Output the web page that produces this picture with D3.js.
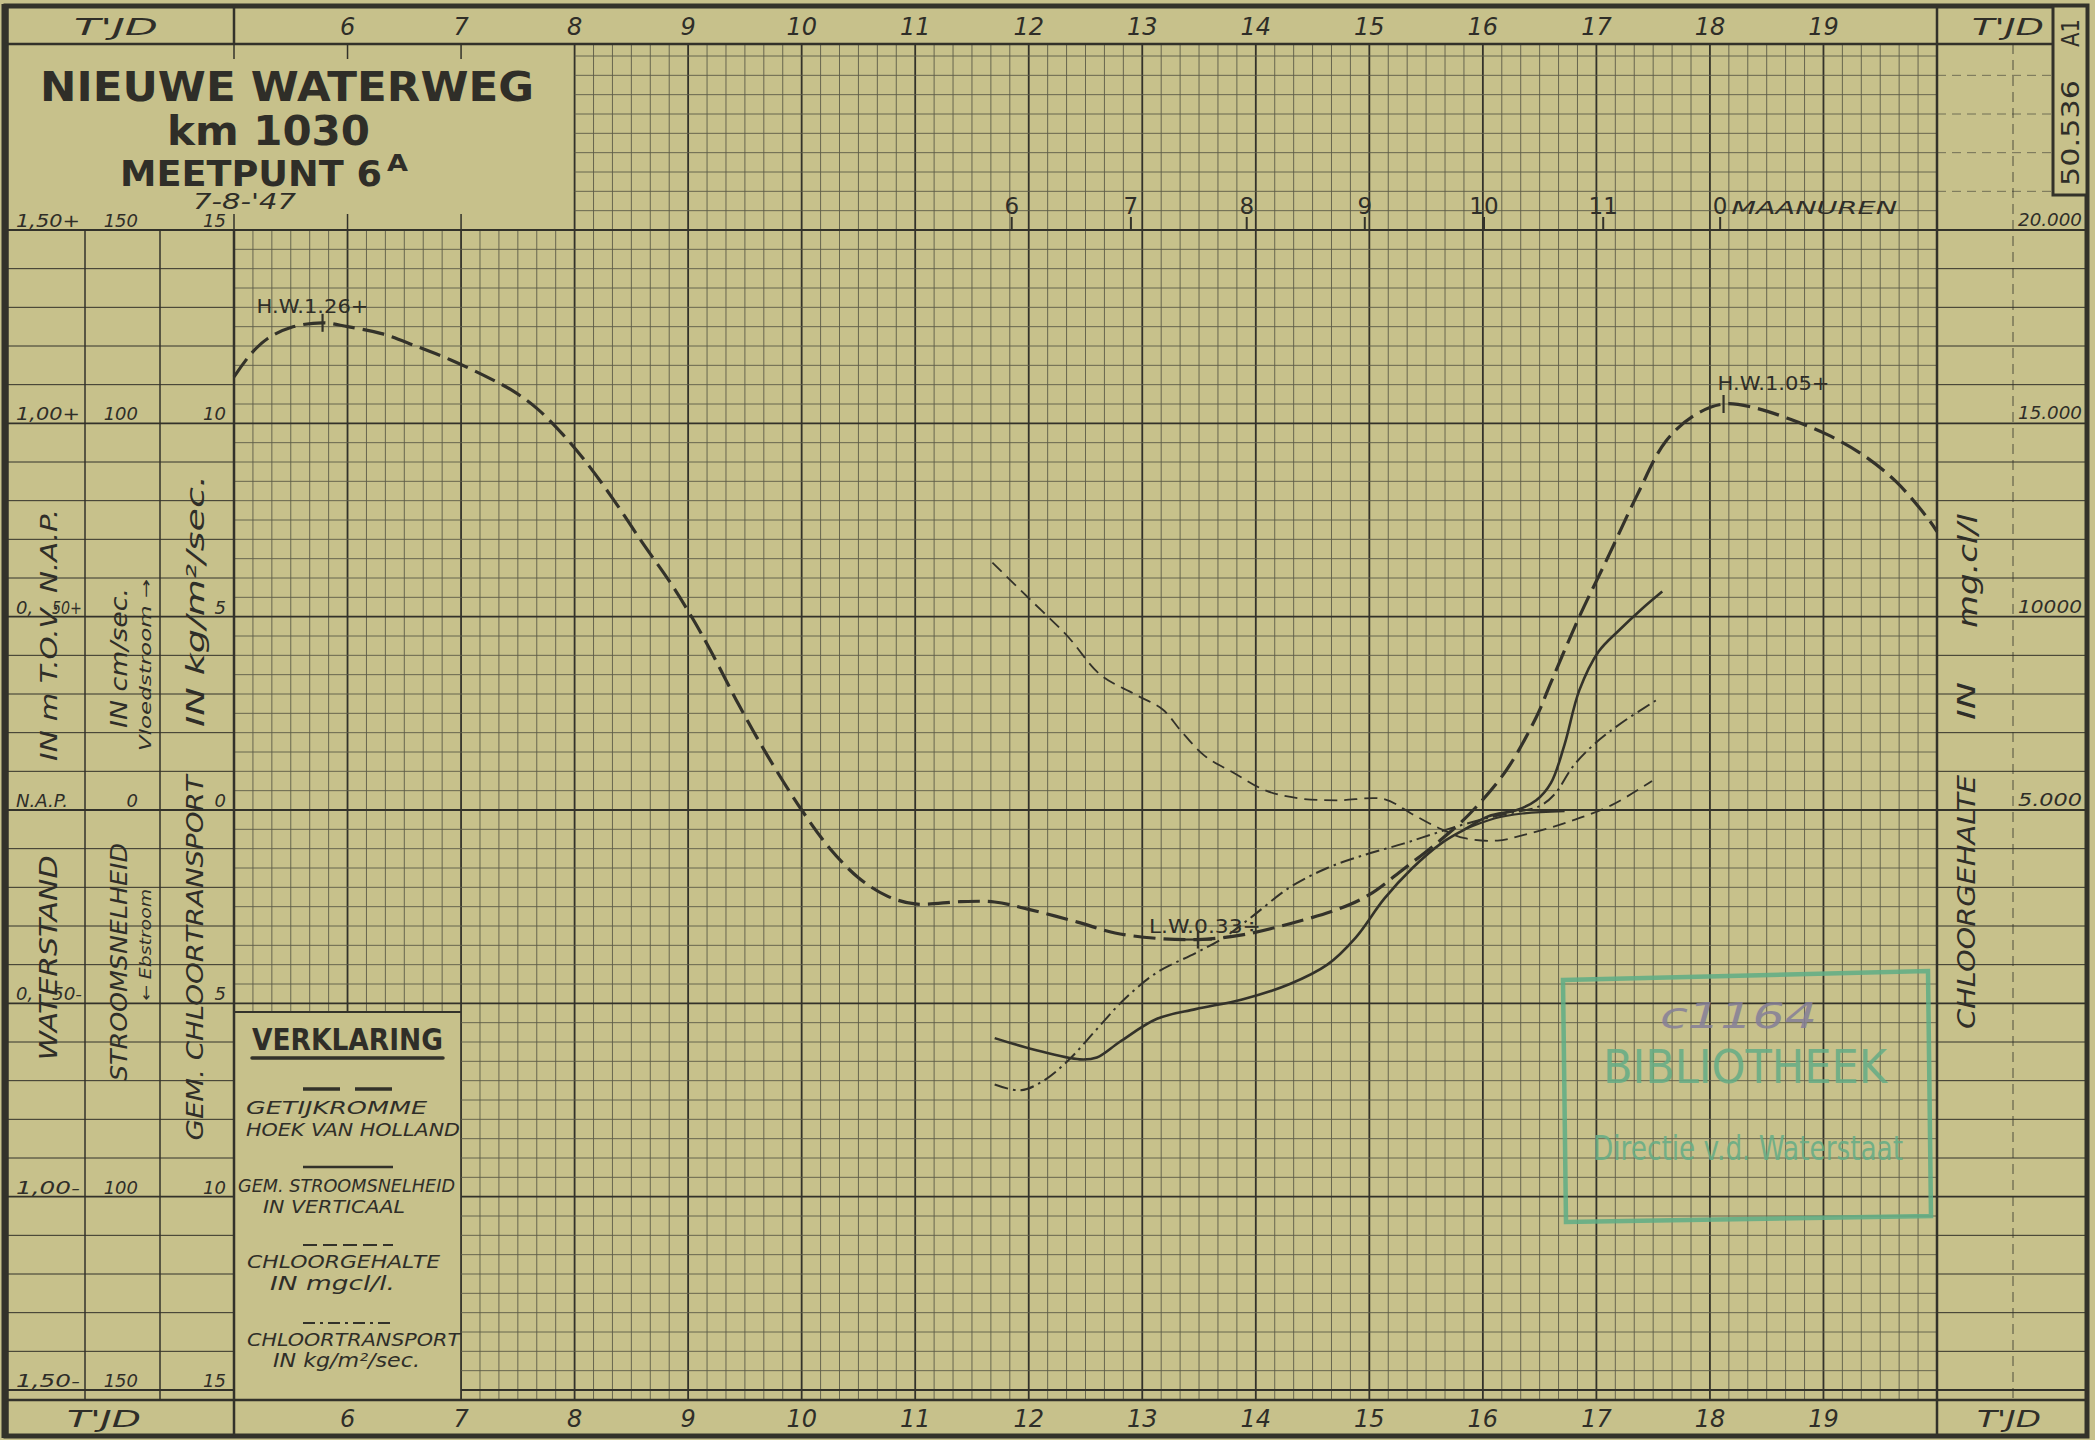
<!DOCTYPE html>
<html>
<head>
<meta charset="utf-8">
<title>Nieuwe Waterweg km 1030 - Meetpunt 6A</title>
<script src="https://d3js.org/d3.v7.min.js"></script>
<style>
body {margin:0; background:#c6c08b;}
svg {display:block;}
.hand {font-family:"DejaVu Sans", sans-serif; font-style:italic; fill:#2f2e28;}
.block {font-family:"DejaVu Sans", sans-serif; fill:#2f2e28;}
</style>
</head>
<body>
<svg width="2095" height="1440"></svg>
<script>
// ---- values (time in hours) ----
var hourTicks = [6,7,8,9,10,11,12,13,14,15,16,17,18,19];

var levelTicks  = [1.5, 1.0, 0.5, 0, -0.5, -1.0, -1.5];
var levelLabels = ["1,50+", "1,00+", "0,50+", "N.A.P.", "0,50-", "1,00-", "1,50-"];
var velocityLabels  = ["150", "100", "", "0", "", "100", "150"];
var transportLabels = ["15", "10", "5", "0", "5", "10", "15"];

var chlorideTicks  = [20000, 15000, 10000, 5000];
var chlorideLabels = ["20.000", "15.000", "10000", "5.000"];

var moonTickTimes = [11.85, 12.9, 13.92, 14.96, 16.01, 17.06, 18.09];
var moonLabels    = ["6", "7", "8", "9", "10", "11", "0"];

// getijkromme Hoek van Holland, m t.o.v. N.A.P.
var tide = [[5.0,1.12],[5.15,1.18],[5.3,1.22],[5.5,1.248],[5.78,1.26],[6.0,1.25],[6.3,1.232],
  [6.6,1.2],[6.9,1.165],[7.2,1.124],[7.45,1.085],[7.67,1.038],[7.9,0.97],[8.1,0.9],[8.33,0.808],
  [8.6,0.69],[8.85,0.585],[9.05,0.49],[9.22,0.4],[9.45,0.27],[9.7,0.14],[10.0,0.0],[10.25,-0.1],
  [10.5,-0.175],[10.75,-0.222],[11.0,-0.243],[11.4,-0.237],[11.7,-0.238],[12.0,-0.257],
  [12.43,-0.29],[12.76,-0.318],[13.13,-0.332],[13.49,-0.335],[13.88,-0.323],[14.3,-0.294],
  [14.72,-0.257],[15.0,-0.219],[15.3,-0.153],[15.63,-0.077],[15.88,-0.011],[16.2,0.1],
  [16.47,0.24],[16.6,0.33],[16.85,0.5],[17.11,0.659],[17.36,0.815],[17.61,0.953],[17.87,1.022],
  [18.12,1.05],[18.41,1.039],[18.72,1.009],[19.04,0.97],[19.35,0.918],[19.64,0.849],
  [19.92,0.754],[20.0,0.72]];

// gem. stroomsnelheid in verticaal, cm/sec (+ vloed, - eb)
var velocity = [[11.7,-59],[12.05,-62],[12.45,-64.5],[12.6,-64],[12.8,-60],[13.13,-54],
  [13.47,-51.5],[13.88,-49],[14.3,-45],[14.63,-40],[14.88,-33],[15.13,-23],[15.38,-15],
  [15.63,-8.7],[15.84,-5],[16.05,-1.6],[16.3,0],[16.47,2.5],[16.6,7],[16.72,17],[16.85,31],
  [17.02,41],[17.2,46.5],[17.4,52],[17.58,56.5]];
var velocityBranch = [[15.84,-5],[16.1,-2.2],[16.35,-0.9],[16.72,-0.3]];

// chloorgehalte, mg cl/l
var chloride = [[11.68,11400],[12.01,10450],[12.34,9500],[12.63,8500],[12.93,8000],[13.18,7600],
  [13.34,7050],[13.55,6400],[13.8,5970],[14.09,5500],[14.38,5300],[14.72,5250],[15.13,5280],
  [15.38,4890],[15.63,4510],[15.84,4270],[16.13,4210],[16.38,4370],[16.76,4700],[17.13,5120],
  [17.49,5750]];

// gem. chloortransport, kg/m2/sec
var transport = [[11.7,-7.1],[11.93,-7.25],[12.13,-7.0],[12.34,-6.5],[12.59,-5.7],[12.84,-4.9],
  [13.13,-4.2],[13.47,-3.7],[13.72,-3.3],[13.97,-2.75],[14.3,-2.0],[14.63,-1.5],[14.97,-1.15],
  [15.3,-0.87],[15.55,-0.63],[15.8,-0.4],[16.05,-0.2],[16.3,-0.05],[16.5,0.1],[16.63,0.4],
  [16.8,1.15],[16.98,1.7],[17.22,2.25],[17.56,2.9]];

var markTimes  = [5.78, 13.49, 18.12];
var markLevels = [1.26, -0.335, 1.05];
var markLabels = ["H.W.1.26+", "L.W.0.33\u00f7", "H.W.1.05+"];

// ---- layout ----
var paper = "#c7c18b", ink = "#33322a", gridInk = "#5c5b47";
var plotLeft = 234, plotRight = 1937, plotTop = 230, plotBottom = 1390;
var bandTop = 44, bandBottom = 1400, legendTop = 1012;
var markLabelOffset = [[-66, -10], [-49, -7], [-6, -14]];

var x = d3.scaleLinear().domain([5, 20]).range([plotLeft, plotRight]);
var yLevel = d3.scaleLinear().domain([1.5, -1.5]).range([plotTop, plotBottom]);
var yVel = d3.scaleLinear().domain([150, -150]).range([plotTop, plotBottom]);
var yTrans = d3.scaleLinear().domain([15, -15]).range([plotTop, plotBottom]);
var yChl = d3.scaleLinear().domain([20000, -10000]).range([plotTop, plotBottom]);

var svg = d3.select("svg");
svg.append("rect").attr("width", 2095).attr("height", 1440).attr("fill", paper);

function addText(g, str, px, py, size, cls, anchor, len) {
  var t = g.append("text").attr("class", cls).attr("x", px).attr("y", py)
    .attr("font-size", size).attr("text-anchor", anchor || "start").text(str);
  if (len) t.attr("textLength", len).attr("lengthAdjust", "spacingAndGlyphs");
  return t;
}
function addVText(g, str, cx, cy, size, cls, len) {
  var t = g.append("text").attr("class", cls)
    .attr("transform", "translate(" + cx + "," + cy + ") rotate(-90)")
    .attr("font-size", size).attr("text-anchor", "middle")
    .attr("dominant-baseline", "central").text(str);
  if (len) t.attr("textLength", len).attr("lengthAdjust", "spacingAndGlyphs");
  return t;
}
function hLine(g, x1, x2, yy, w, dash) {
  var l = g.append("line").attr("x1", x1).attr("x2", x2).attr("y1", yy).attr("y2", yy)
    .attr("stroke", ink).attr("stroke-width", w);
  if (dash) l.attr("stroke-dasharray", dash);
  return l;
}
function vLine(g, xx, y1, y2, w, dash) {
  var l = g.append("line").attr("x1", xx).attr("x2", xx).attr("y1", y1).attr("y2", y2)
    .attr("stroke", ink).attr("stroke-width", w);
  if (dash) l.attr("stroke-dasharray", dash);
  return l;
}
var isWhole = function(d) { return Math.abs(d - Math.round(d)) < 0.01; };
var isHalf = function(d) { return Math.abs(d * 2 - Math.round(d * 2)) < 0.01; };

// ---- grid paper ----
var grid = svg.append("g");
var tenMinutes = d3.range(31, 120).map(function(i) { return i / 6; });
grid.selectAll(".vg").data(tenMinutes).enter().append("line")
  .attr("x1", function(d) { return x(d); })
  .attr("x2", function(d) { return x(d); })
  .attr("y1", function(d) { return d < 7.99 ? plotTop : bandTop; })
  .attr("y2", function(d) { return d < 6.99 ? legendTop : bandBottom; })
  .attr("stroke", function(d) { return isWhole(d) ? ink : gridInk; })
  .attr("stroke-width", function(d) { return isWhole(d) ? 1.8 : 0.9; });

var fiveCm = d3.range(-30, 40).map(function(i) { return i / 20; });
grid.selectAll(".hg").data(fiveCm).enter().append("line")
  .attr("x1", function(d) {
    if (d > 1.501) return x(8);
    return yLevel(d) > legendTop ? x(7) : plotLeft;
  })
  .attr("x2", plotRight)
  .attr("y1", function(d) { return yLevel(d); })
  .attr("y2", function(d) { return yLevel(d); })
  .attr("stroke", function(d) { return isHalf(d) && d <= 1.5 ? ink : gridInk; })
  .attr("stroke-width", function(d) { return isHalf(d) && d <= 1.5 ? 1.8 : 0.9; });

// margins: lines every 10 cm
var tenCm = d3.range(-15, 16).map(function(i) { return i / 10; });
grid.selectAll(".lm").data(tenCm).enter().append("line")
  .attr("x1", 7).attr("x2", plotLeft)
  .attr("y1", function(d) { return yLevel(d); }).attr("y2", function(d) { return yLevel(d); })
  .attr("stroke", ink).attr("stroke-width", function(d) { return isHalf(d) ? 1.8 : 1; });
grid.selectAll(".rm").data(tenCm).enter().append("line")
  .attr("x1", plotRight).attr("x2", 2087)
  .attr("y1", function(d) { return yLevel(d); }).attr("y2", function(d) { return yLevel(d); })
  .attr("stroke", ink).attr("stroke-width", function(d) { return isHalf(d) ? 1.8 : 1; });
grid.selectAll(".rmu").data([1.6, 1.7, 1.8, 1.9]).enter().append("line")
  .attr("x1", plotRight).attr("x2", 2053)
  .attr("y1", function(d) { return yLevel(d); }).attr("y2", function(d) { return yLevel(d); })
  .attr("stroke", gridInk).attr("stroke-width", 0.8).attr("stroke-dasharray", "9,6");

// ---- frame ----
var frame = svg.append("g");
frame.append("rect").attr("x", 6).attr("y", 6).attr("width", 2081).attr("height", 1430)
  .attr("fill", "none").attr("stroke", ink).attr("stroke-width", 5);
vLine(frame, 5, 4, 1438, 7);
hLine(frame, 6, 2053, bandTop, 2.5);
hLine(frame, 6, 2087, bandBottom, 2.5);
hLine(frame, 6, 2087, plotTop, 2.2);
vLine(frame, plotLeft, 6, bandTop, 2.5);
vLine(frame, plotLeft, plotTop, 1436, 2.5);
vLine(frame, plotRight, 6, 1436, 2.5);
vLine(frame, 85, plotTop, bandBottom, 1.5);
vLine(frame, 160, plotTop, bandBottom, 1.5);
vLine(frame, 2013, bandTop, bandBottom, 0.8, "10,6");
hLine(frame, plotLeft, x(7), legendTop, 1.8);
frame.append("rect").attr("x", 2053).attr("y", 6).attr("width", 34).attr("height", 189)
  .attr("fill", paper).attr("stroke", ink).attr("stroke-width", 3);
[5, 6, 7].forEach(function(h) {
  vLine(frame, x(h), bandTop, bandTop + 15, 1.5);
  vLine(frame, x(h), plotTop - 16, plotTop, 1.5);
});

// ---- hour labels ----
var labels = svg.append("g");
hourTicks.forEach(function(h) {
  addText(labels, h, x(h), 35, 24, "hand", "middle");
  addText(labels, h, x(h), 1427, 24, "hand", "middle");
});
addText(labels, "T'JD", 74, 35, 23, "hand", "start", 84);
addText(labels, "T'JD", 1972, 35, 23, "hand", "start", 72);
addText(labels, "T'JD", 67, 1427, 23, "hand", "start", 74);
addText(labels, "T'JD", 1977, 1427, 23, "hand", "start", 64);
addVText(labels, "A1", 2071, 33, 24, "block", 28);
addVText(labels, "50.536", 2071, 133, 24, "block", 106);

// moon hours
moonTickTimes.forEach(function(t, i) {
  vLine(labels, x(t), 217, plotTop, 2);
  addText(labels, moonLabels[i], x(t), 214, 23, "block", "middle");
});
addText(labels, "MAANUREN", x(moonTickTimes[6]) + 11, 214, 17, "hand", "start", 166);

// left margin scales
levelTicks.forEach(function(v, i) {
  var yy = yLevel(v) - 3;
  var lab = levelLabels[i];
  if (lab.indexOf("0,") === 0) {
    addText(labels, "0,", 16, yy, 18, "hand", "start");
    addText(labels, lab.slice(2), 82, yy, 18, "hand", "end", 30);
  } else {
    addText(labels, lab, 16, yy, 18, "hand", "start", lab === "N.A.P." ? 52 : 64);
  }
  if (velocityLabels[i]) addText(labels, velocityLabels[i], 138, yy, 18, "hand", "end");
  addText(labels, transportLabels[i], 226, yy, 18, "hand", "end");
});
chlorideTicks.forEach(function(c, i) {
  addText(labels, chlorideLabels[i], 2082, yChl(c) - 4, 18, "hand", "end", 64);
});

addVText(labels, "WATERSTAND", 49, 958, 24, "hand", 205);
addVText(labels, "IN m T.O.V. N.A.P.", 49, 635, 23, "hand", 252);
addVText(labels, "STROOMSNELHEID", 119, 962, 23, "hand", 238);
addVText(labels, "IN  cm/sec.", 119, 658, 23, "hand", 140);
addVText(labels, "\u2190 Ebstroom", 146, 945, 15, "hand", 112);
addVText(labels, "Vloedstroom \u2192", 146, 665, 15, "hand", 172);
addVText(labels, "GEM. CHLOORTRANSPORT", 195, 958, 23, "hand", 365);
addVText(labels, "IN  kg/m\u00b2/sec.", 195, 601, 25, "hand", 252);
addVText(labels, "CHLOORGEHALTE", 1967, 902, 24, "hand", 254);
addVText(labels, "IN", 1967, 701, 24, "hand", 38);
addVText(labels, "mg.cl/l", 1967, 571, 27, "hand", 114);

// ---- title block ----
var title = svg.append("g");
addText(title, "NIEUWE WATERWEG", 40, 101, 41, "block", "start", 494).attr("font-weight", 600);
addText(title, "km 1030", 167, 145, 40, "block", "start", 203).attr("font-weight", 600);
addText(title, "MEETPUNT 6", 120, 186, 36, "block", "start", 262).attr("font-weight", 600);
addText(title, "A", 387, 171, 23, "block", "start", 21).attr("font-weight", 600);
addText(title, "7-8-'47", 193, 209, 21, "hand", "start", 103);

// ---- curves ----
var curves = svg.append("g").attr("fill", "none").attr("stroke", ink)
  .attr("stroke-linecap", "butt");
function drawSeries(data, yScale, width, dash) {
  var line = d3.line()
    .x(function(d) { return x(d[0]); })
    .y(function(d) { return yScale(d[1]); })
    .curve(d3.curveCatmullRom.alpha(0.5));
  var p = curves.append("path").datum(data).attr("d", line).attr("stroke-width", width);
  if (dash) p.attr("stroke-dasharray", dash);
  return p;
}
drawSeries(chloride, yChl, 1.8, "13,7");
drawSeries(transport, yTrans, 2, "14,5,2.5,5");
drawSeries(velocity, yVel, 2.6);
drawSeries(velocityBranch, yVel, 2.2);
drawSeries(tide, yLevel, 3.2, "22,8");

// tide marks
markTimes.forEach(function(t, i) {
  var mx = x(t), my = yLevel(markLevels[i]);
  vLine(curves, mx, my - 9, my + 9, 2.2);
  if (i === 1) hLine(curves, mx - 14, mx + 14, my, 2.2);
  addText(labels, markLabels[i], mx + markLabelOffset[i][0], my + markLabelOffset[i][1], 19, "block", "start", 112);
});

// ---- legend ----
var legend = svg.append("g");
addText(legend, "VERKLARING", 252, 1050, 30, "block", "start", 191).attr("font-weight", 600);
hLine(legend, 252, 443, 1058, 3.5).attr("stroke-linecap", "round");
hLine(legend, 303, 393, 1089, 3.5, "37,15");
addText(legend, "GETIJKROMME", 246, 1114, 18, "hand", "start", 181);
addText(legend, "HOEK VAN HOLLAND", 246, 1136, 18, "hand", "start", 214);
hLine(legend, 303, 393, 1167, 2.6);
addText(legend, "GEM. STROOMSNELHEID", 238, 1192, 18, "hand", "start", 217);
addText(legend, "IN VERTICAAL", 263, 1213, 18, "hand", "start", 142);
hLine(legend, 303, 393, 1245, 2, "14,6");
addText(legend, "CHLOORGEHALTE", 247, 1268, 18, "hand", "start", 193);
addText(legend, "IN mgcl/l.", 270, 1290, 20, "hand", "start", 125);
hLine(legend, 303, 393, 1323, 2, "12,5,3,5");
addText(legend, "CHLOORTRANSPORT", 247, 1346, 18, "hand", "start", 213);
addText(legend, "IN kg/m\u00b2/sec.", 273, 1367, 19, "hand", "start", 147);

// ---- library stamp ----
var stamp = svg.append("g").attr("opacity", 0.85);
stamp.append("path").attr("d", "M1563,980 L1928,971 L1931,1216 L1566,1222 Z")
  .attr("fill", "none").attr("stroke", "#5fae86").attr("stroke-width", 4.5);
addText(stamp, "BIBLIOTHEEK", 1603, 1083, 47, "block", "start", 284).style("fill", "#64ad86");
addText(stamp, "Directie v.d. Waterstaat", 1593, 1160, 33, "block", "start", 310).style("fill", "#64ad86");
addText(stamp, "c1164", 1660, 1028, 35, "hand", "start", 157).style("fill", "#857f98");
</script>
</body>
</html>
